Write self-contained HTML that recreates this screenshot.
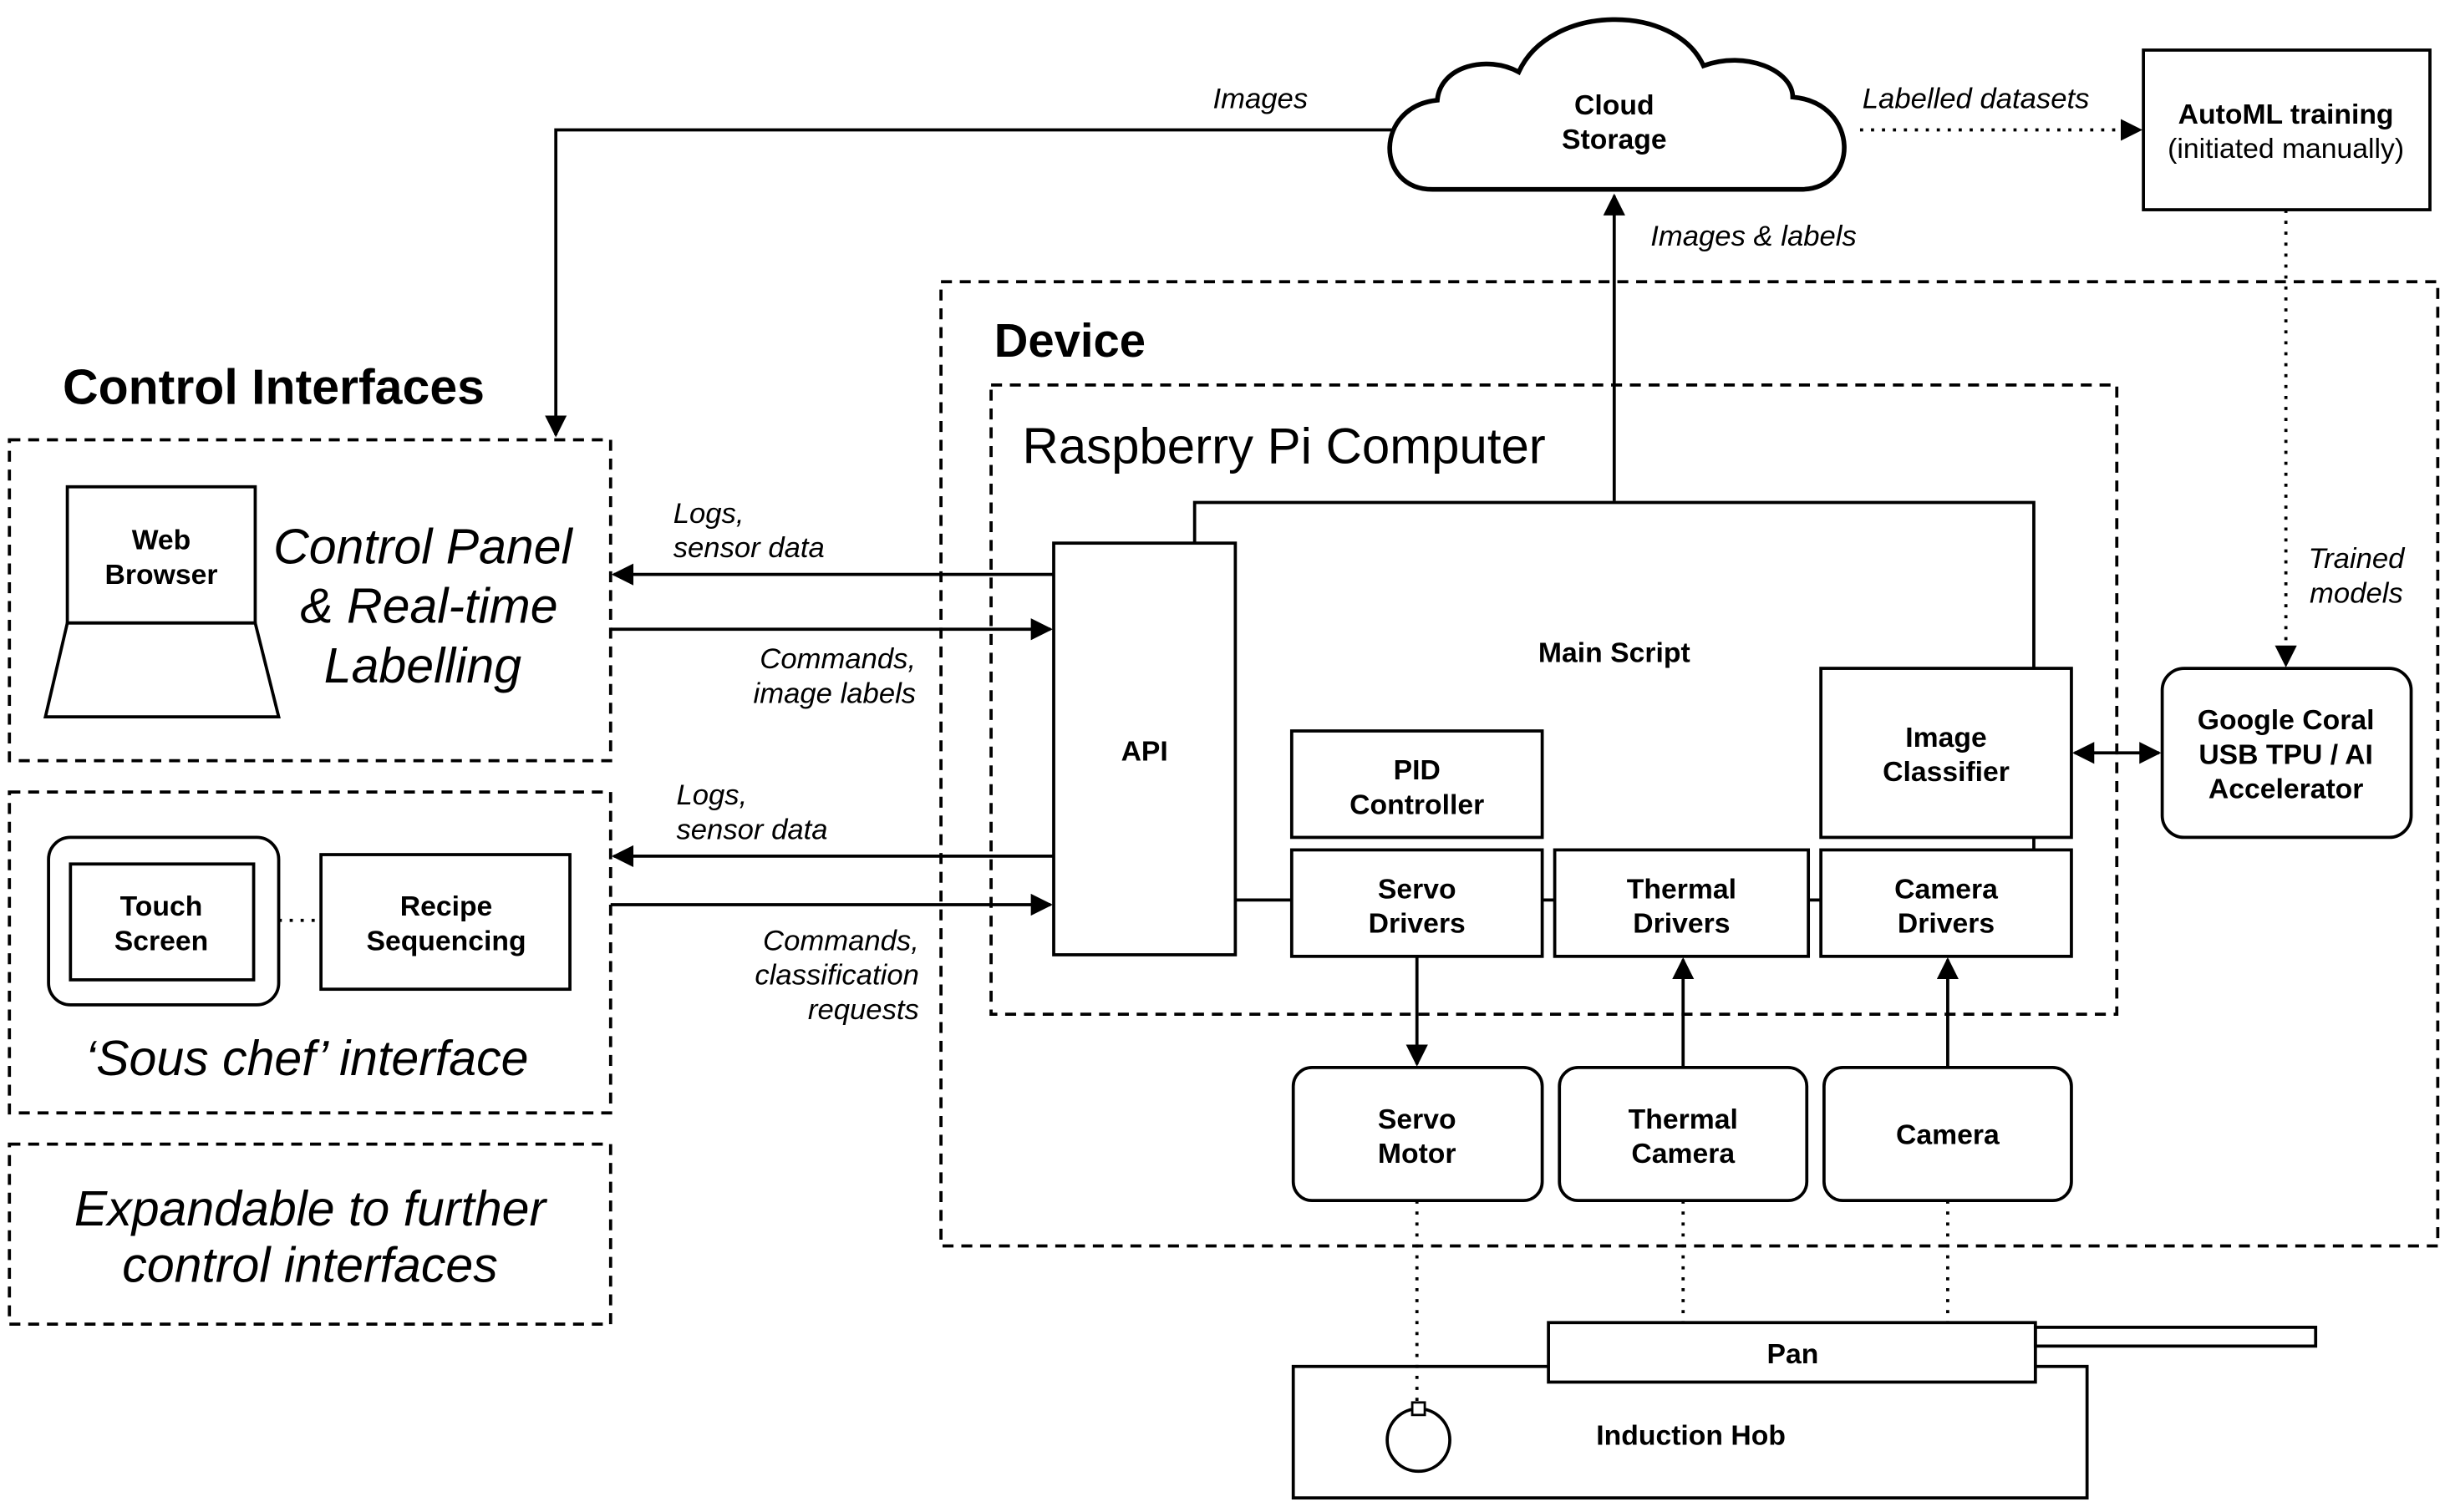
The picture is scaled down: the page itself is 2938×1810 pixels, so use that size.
<!DOCTYPE html>
<html><head><meta charset="utf-8"><style>
html,body{margin:0;padding:0;background:#fff;}
svg{display:block;}
text{font-family:"Liberation Sans",Arial,sans-serif;fill:#000;}
.b{font-weight:bold;font-size:18px;}
.i{font-style:italic;font-size:18.5px;}
.big{font-style:italic;font-size:31.5px;}
</style></head><body>
<svg width="2938" height="1810" viewBox="0 0 1568 966" xmlns="http://www.w3.org/2000/svg">
<defs>
<marker id="a" viewBox="0 0 10 10" refX="9" refY="5" markerWidth="7" markerHeight="7" orient="auto-start-reverse"><path d="M0,0 L10,5 L0,10 z" fill="#000"/></marker>
</defs>
<g fill="none" stroke="#000" stroke-width="2">
<path d="M915,121 C878,121 878,68 918,64 C920,42 950,35 970,46 C990,2 1070,2 1088,42 C1115,32 1145,45 1145,62 C1188,66 1188,121 1150,121 Z" fill="#fff" stroke-width="3"/>
<rect x="1369" y="32" width="183" height="102"/>
<rect x="601" y="180" width="956" height="616" stroke-dasharray="7,5"/>
<rect x="633" y="246" width="719" height="402" stroke-dasharray="7,5"/>
<polyline points="763,347 763,321 1299,321 1299,427"/>
<line x1="1299" y1="535" x2="1299" y2="543"/>
<rect x="673" y="347" width="116" height="263"/>
<rect x="825" y="467" width="160" height="68"/>
<rect x="825" y="543" width="160" height="68"/>
<rect x="993" y="543" width="162" height="68"/>
<rect x="1163" y="543" width="160" height="68"/>
<rect x="1163" y="427" width="160" height="108"/>
<line x1="789" y1="575" x2="825" y2="575"/>
<line x1="985" y1="575" x2="993" y2="575"/>
<line x1="1155" y1="575" x2="1163" y2="575"/>
<rect x="1381" y="427" width="159" height="108" rx="14"/>
<rect x="826" y="682" width="159" height="85" rx="12"/>
<rect x="996" y="682" width="158" height="85" rx="12"/>
<rect x="1165" y="682" width="158" height="85" rx="12"/>
<rect x="826" y="873" width="507" height="84"/>
<rect x="989" y="845" width="311" height="38" fill="#fff"/>
<rect x="1300" y="848" width="179" height="12"/>
<circle cx="906" cy="920" r="20"/>
<rect x="902" y="896" width="8" height="8" fill="#fff" stroke-width="1.5"/>
<polyline points="890,83 355,83 355,278" marker-end="url(#a)"/>
<line x1="1188" y1="83" x2="1367" y2="83" stroke-dasharray="2,5" marker-end="url(#a)"/>
<line x1="1460" y1="134" x2="1460" y2="425" stroke-dasharray="2,5" marker-end="url(#a)"/>
<line x1="1031" y1="320" x2="1031" y2="125" marker-end="url(#a)"/>
<line x1="1325" y1="481" x2="1379" y2="481" marker-start="url(#a)" marker-end="url(#a)"/>
<line x1="905" y1="611" x2="905" y2="680" marker-end="url(#a)"/>
<line x1="1075" y1="682" x2="1075" y2="613" marker-end="url(#a)"/>
<line x1="1244" y1="682" x2="1244" y2="613" marker-end="url(#a)"/>
<line x1="905" y1="767" x2="905" y2="896" stroke-dasharray="2,5"/>
<line x1="1075" y1="767" x2="1075" y2="845" stroke-dasharray="2,5"/>
<line x1="1244" y1="767" x2="1244" y2="845" stroke-dasharray="2,5"/>
<line x1="673" y1="367" x2="392" y2="367" marker-end="url(#a)"/>
<line x1="390" y1="402" x2="671" y2="402" marker-end="url(#a)"/>
<line x1="673" y1="547" x2="392" y2="547" marker-end="url(#a)"/>
<line x1="390" y1="578" x2="671" y2="578" marker-end="url(#a)"/>
<rect x="6" y="281" width="384" height="205" stroke-dasharray="7,5"/>
<rect x="43" y="311" width="120" height="87"/>
<polygon points="43,398 163,398 178,458 29,458"/>
<rect x="6" y="506" width="384" height="205" stroke-dasharray="7,5"/>
<rect x="31" y="535" width="147" height="107" rx="14"/>
<rect x="45" y="552" width="117" height="74"/>
<line x1="178" y1="588" x2="205" y2="588" stroke-dasharray="2,5"/>
<rect x="205" y="546" width="159" height="86"/>
<rect x="6" y="731" width="384" height="115" stroke-dasharray="7,5"/>
</g>
<g text-anchor="middle" class="b">
<text x="1031" y="73">Cloud</text><text x="1031" y="95">Storage</text>
<text x="1460" y="79">AutoML training</text>
<text x="1460" y="101" style="font-weight:normal">(initiated manually)</text>
<text x="1031" y="423">Main Script</text>
<text x="731" y="486">API</text>
<text x="905" y="498">PID</text><text x="905" y="520">Controller</text>
<text x="905" y="574">Servo</text><text x="905" y="596">Drivers</text>
<text x="1074" y="574">Thermal</text><text x="1074" y="596">Drivers</text>
<text x="1243" y="574">Camera</text><text x="1243" y="596">Drivers</text>
<text x="1243" y="477">Image</text><text x="1243" y="499">Classifier</text>
<text x="1460" y="466">Google Coral</text><text x="1460" y="488">USB TPU / AI</text><text x="1460" y="510">Accelerator</text>
<text x="905" y="721">Servo</text><text x="905" y="743">Motor</text>
<text x="1075" y="721">Thermal</text><text x="1075" y="743">Camera</text>
<text x="1244" y="731">Camera</text>
<text x="1145" y="871">Pan</text>
<text x="1080" y="923">Induction Hob</text>
<text x="103" y="351">Web</text><text x="103" y="373">Browser</text>
<text x="103" y="585">Touch</text><text x="103" y="607">Screen</text>
<text x="285" y="585">Recipe</text><text x="285" y="607">Sequencing</text>
</g>
<g class="i">
<text x="805" y="69" text-anchor="middle">Images</text>
<text x="1262" y="69" text-anchor="middle">Labelled datasets</text>
<text x="1120" y="157" text-anchor="middle">Images &amp; labels</text>
<text x="1505" y="363" text-anchor="middle">Trained</text><text x="1505" y="385" text-anchor="middle">models</text>
<text x="430" y="334">Logs,</text><text x="430" y="356">sensor data</text>
<text x="585" y="427" text-anchor="end">Commands,</text><text x="585" y="449" text-anchor="end">image labels</text>
<text x="432" y="514">Logs,</text><text x="432" y="536">sensor data</text>
<text x="587" y="607" text-anchor="end">Commands,</text><text x="587" y="629" text-anchor="end">classification</text><text x="587" y="651" text-anchor="end">requests</text>
</g>
<text x="635" y="228" style="font-weight:bold;font-size:30px">Device</text>
<text x="653" y="296" style="font-size:32px">Raspberry Pi Computer</text>
<text x="40" y="258" style="font-weight:bold;font-size:31.5px">Control Interfaces</text>
<g class="big" text-anchor="middle">
<text x="270" y="360">Control Panel</text><text x="274" y="398">&amp; Real-time</text><text x="270" y="436">Labelling</text>
<text x="196" y="687">‘Sous chef’ interface</text>
<text x="198" y="783">Expandable to further</text><text x="198" y="819">control interfaces</text>
</g>
</svg>
</body></html>
